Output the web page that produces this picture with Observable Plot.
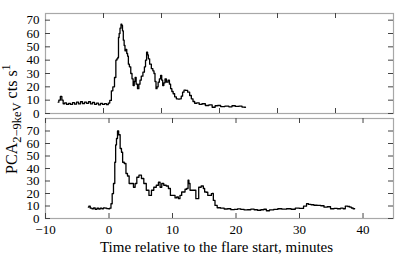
<!DOCTYPE html>
<html>
<head>
<meta charset="utf-8">
<script src="https://cdn.jsdelivr.net/npm/d3@7"></script>
<script src="https://cdn.jsdelivr.net/npm/@observablehq/plot@0.6"></script>
<style>
  body { margin: 0; background: #fff; }
  #wrap { position: relative; width: 415px; height: 257px; font-family: "Liberation Serif", "Times New Roman", serif; }
  #wrap svg { display: block; }
  #ylab { position: absolute; left: 12px; top: 119px; transform: translate(-50%, -50%) rotate(-90deg); white-space: nowrap; font-size: 16px; line-height: 1; color: #000; }
  #ylab sub, #ylab sup { font-size: 12.5px; }
  #xlab { position: absolute; left: 0; width: 415px; top: 238px; text-align: center; white-space: nowrap; font-size: 15px; line-height: 1.2; padding-left: 18px; box-sizing: border-box; color: #000; }
</style>
</head>
<body>
<div id="wrap">
  <div id="plots"></div>
  <div id="ylab">PCA<sub>2−9keV</sub> cts s<sup>1</sup></div>
  <div id="xlab">Time relative to the flare start, minutes</div>
</div>
<script>
// Upper panel (its own time axis, no tick labels)
const topTime = [2.19,2.41,2.71,2.93,3.16,3.45,3.79,4.14,4.48,4.83,5.17,5.52,5.86,6.21,6.55,6.9,7.24,7.59,7.93,8.28,8.62,8.97,9.31,9.66,10,10.34,10.69,10.95,11.21,11.5,11.72,12.07,12.19,12.41,12.53,12.64,12.76,12.93,13.1,13.22,13.33,13.5,13.62,13.79,13.93,14.09,14.22,14.36,14.57,14.83,15,15.22,15.38,15.52,15.74,15.98,16.21,16.38,16.64,16.95,17.16,17.33,17.53,17.67,17.81,18.1,18.4,18.62,18.79,18.97,19.14,19.31,19.53,19.74,19.95,20.12,20.29,20.52,20.69,20.98,21.26,21.47,21.67,21.9,22.12,22.41,22.71,23,23.28,23.53,23.74,24.02,24.31,24.71,25,25.29,25.57,25.86,26.29,26.72,27.24,27.88,28.45,29.02,29.48,29.88,30.52,31.33,31.9,32.41,33.05,33.62,34.14,34.48];
const topRate = [8.5,10,12.8,10,7.3,8,6.8,7.5,6.8,8.2,7,8.5,7.2,8.8,7.4,8.6,7.6,8.8,7.2,8.4,6.9,7.8,6.5,7.6,6.8,7.4,6.6,7.8,9.8,17,20,27,40,41,42,57,60,64,67,66,62,55,51,47,48,45,43,37,35,30,26,21,24,27,22,18.6,22,25,28,31,35,40,46,44,41,37,33.6,32,30,24,18.6,20,23.5,26,28.6,25,21,23,26,23.5,25,22,18.6,16.5,14.8,12.5,11,10.8,11,13,16,17.5,17.3,16,13.5,11,9,7.7,8,6.8,7.3,6,6.4,4.7,5.8,6,5.2,5.5,5,5.8,5.3,5.6,4.8,4.7];

// Lower panel: minutes relative to the flare start
const botTime = [-3.25,-3.1,-2.8,-2.56,-2.3,-2.04,-1.75,-1.5,-1.26,-1,-0.75,-0.47,-0.2,0.05,0.2,0.42,0.58,0.83,0.99,1.1,1.26,1.42,1.62,1.89,2.04,2.25,2.56,2.78,3.04,3.3,3.72,3.98,4.25,4.51,4.92,5.3,5.66,6.08,6.5,6.87,7.23,7.66,7.91,8.18,8.44,8.8,9.23,9.48,9.86,10.27,10.53,10.8,11.05,11.3,11.59,11.84,12.1,12.37,12.53,12.63,12.89,13.4,13.95,14.3,14.73,14.98,15.14,15.5,15.61,16.04,16.2,16.3,16.56,16.82,17.25,17.88,18.4,18.92,19.45,19.97,20.5,21.02,21.55,22.06,22.6,23.11,23.65,24.17,24.6,24.95,25.6,26.26,26.9,27.56,28.35,29.0,29.67,30.3,30.97,31.24,31.6,32.03,32.5,33.08,33.6,34.12,34.6,35.17,35.7,36.21,36.75,37.0,37.42,37.78,38.05,38.3,38.57,38.68];
const botRate = [9.1,9.9,8.3,7.8,8.4,7.3,8.2,7.6,8.3,7.8,8.5,8.3,7.9,7.8,8.3,11.8,19.9,28,45,58.9,64,70,67,56,53,45,44,36,34,28,28,25,28,33,34.7,32,28,22.6,18.5,22.6,25,26.6,29,25,28,26.6,26,24,18.5,18.5,16.5,17.2,15.9,18.5,21.2,21.2,23.4,24,30.6,28,22.6,22.6,15.9,25,26,24,21.2,21,18.5,18.5,19.9,20,14.5,10.5,8.6,8.3,7.6,7.8,7.1,7.3,7.7,7.3,6.9,7,7.5,7,6.6,7,7.4,6.2,6.9,7.3,7.8,7.5,7.8,7.4,8.3,8.1,9.9,11.8,11.3,11,10.6,10.5,10.2,9.1,9.4,7.8,8.1,7.8,8.3,7.8,9.9,9.6,9.1,8.4,7.8,7.8];

const yTicks = [0,10,20,30,40,50,60,70];
const topXTicks = [10,20,30,40,50];
const botXTicks = [-10,0,10,20,30,40];

const topData = topTime.map((t, i) => ({t, r: topRate[i]}));
const botData = botTime.map((t, i) => ({t, r: botRate[i]}));

const W = 415, ML = 45, MR = 22;
const innerW = W - ML - MR;
const innerH = 100;
const T = 5; // inward tick length
const frameColor = "#a8a8a8";
const tickColor = "#444";
const style = {fontFamily: "'Liberation Serif', 'Times New Roman', serif", fontSize: "13px", color: "#000", background: "#fff", overflow: "visible"};

function inwardTicks(xt) {
  return [
    Plot.tickX(xt, {x: d => d, insetBottom: innerH - T, stroke: tickColor}),
    Plot.tickX(xt, {x: d => d, insetTop: innerH - T, stroke: tickColor}),
    Plot.tickY(yTicks, {y: d => d, insetRight: innerW - T, stroke: tickColor}),
    Plot.tickY(yTicks, {y: d => d, insetLeft: innerW - T, stroke: tickColor})
  ];
}

const topPlot = Plot.plot({
  width: W, height: 116,
  marginLeft: ML, marginRight: MR, marginTop: 13, marginBottom: 3,
  style,
  x: {domain: [0, 60], axis: null},
  y: {domain: [0, 75], axis: null},
  marks: [
    Plot.frame({stroke: frameColor, strokeWidth: 1.2}),
    ...inwardTicks(topXTicks),
    Plot.axisY({anchor: "left", ticks: yTicks, tickSize: 0, tickPadding: 6, label: null}),
    Plot.line(topData, {x: "t", y: "r", stroke: "#000", strokeWidth: 1.3, curve: "step"})
  ]
});

const botPlot = Plot.plot({
  width: W, height: 141,
  marginLeft: ML, marginRight: MR, marginTop: 2, marginBottom: 39,
  style,
  x: {domain: [-10, 44.8]},
  y: {domain: [0, 80]},
  marks: [
    Plot.frame({stroke: frameColor, strokeWidth: 1.2}),
    ...inwardTicks(botXTicks),
    Plot.axisX({anchor: "bottom", ticks: botXTicks, tickSize: 0, tickPadding: 6, label: null}),
    Plot.axisY({anchor: "left", ticks: yTicks, tickSize: 0, tickPadding: 6, label: null}),
    Plot.line(botData, {x: "t", y: "r", stroke: "#000", strokeWidth: 1.3, curve: "step"})
  ]
});

document.getElementById("plots").append(topPlot, botPlot);
</script>
</body>
</html>
